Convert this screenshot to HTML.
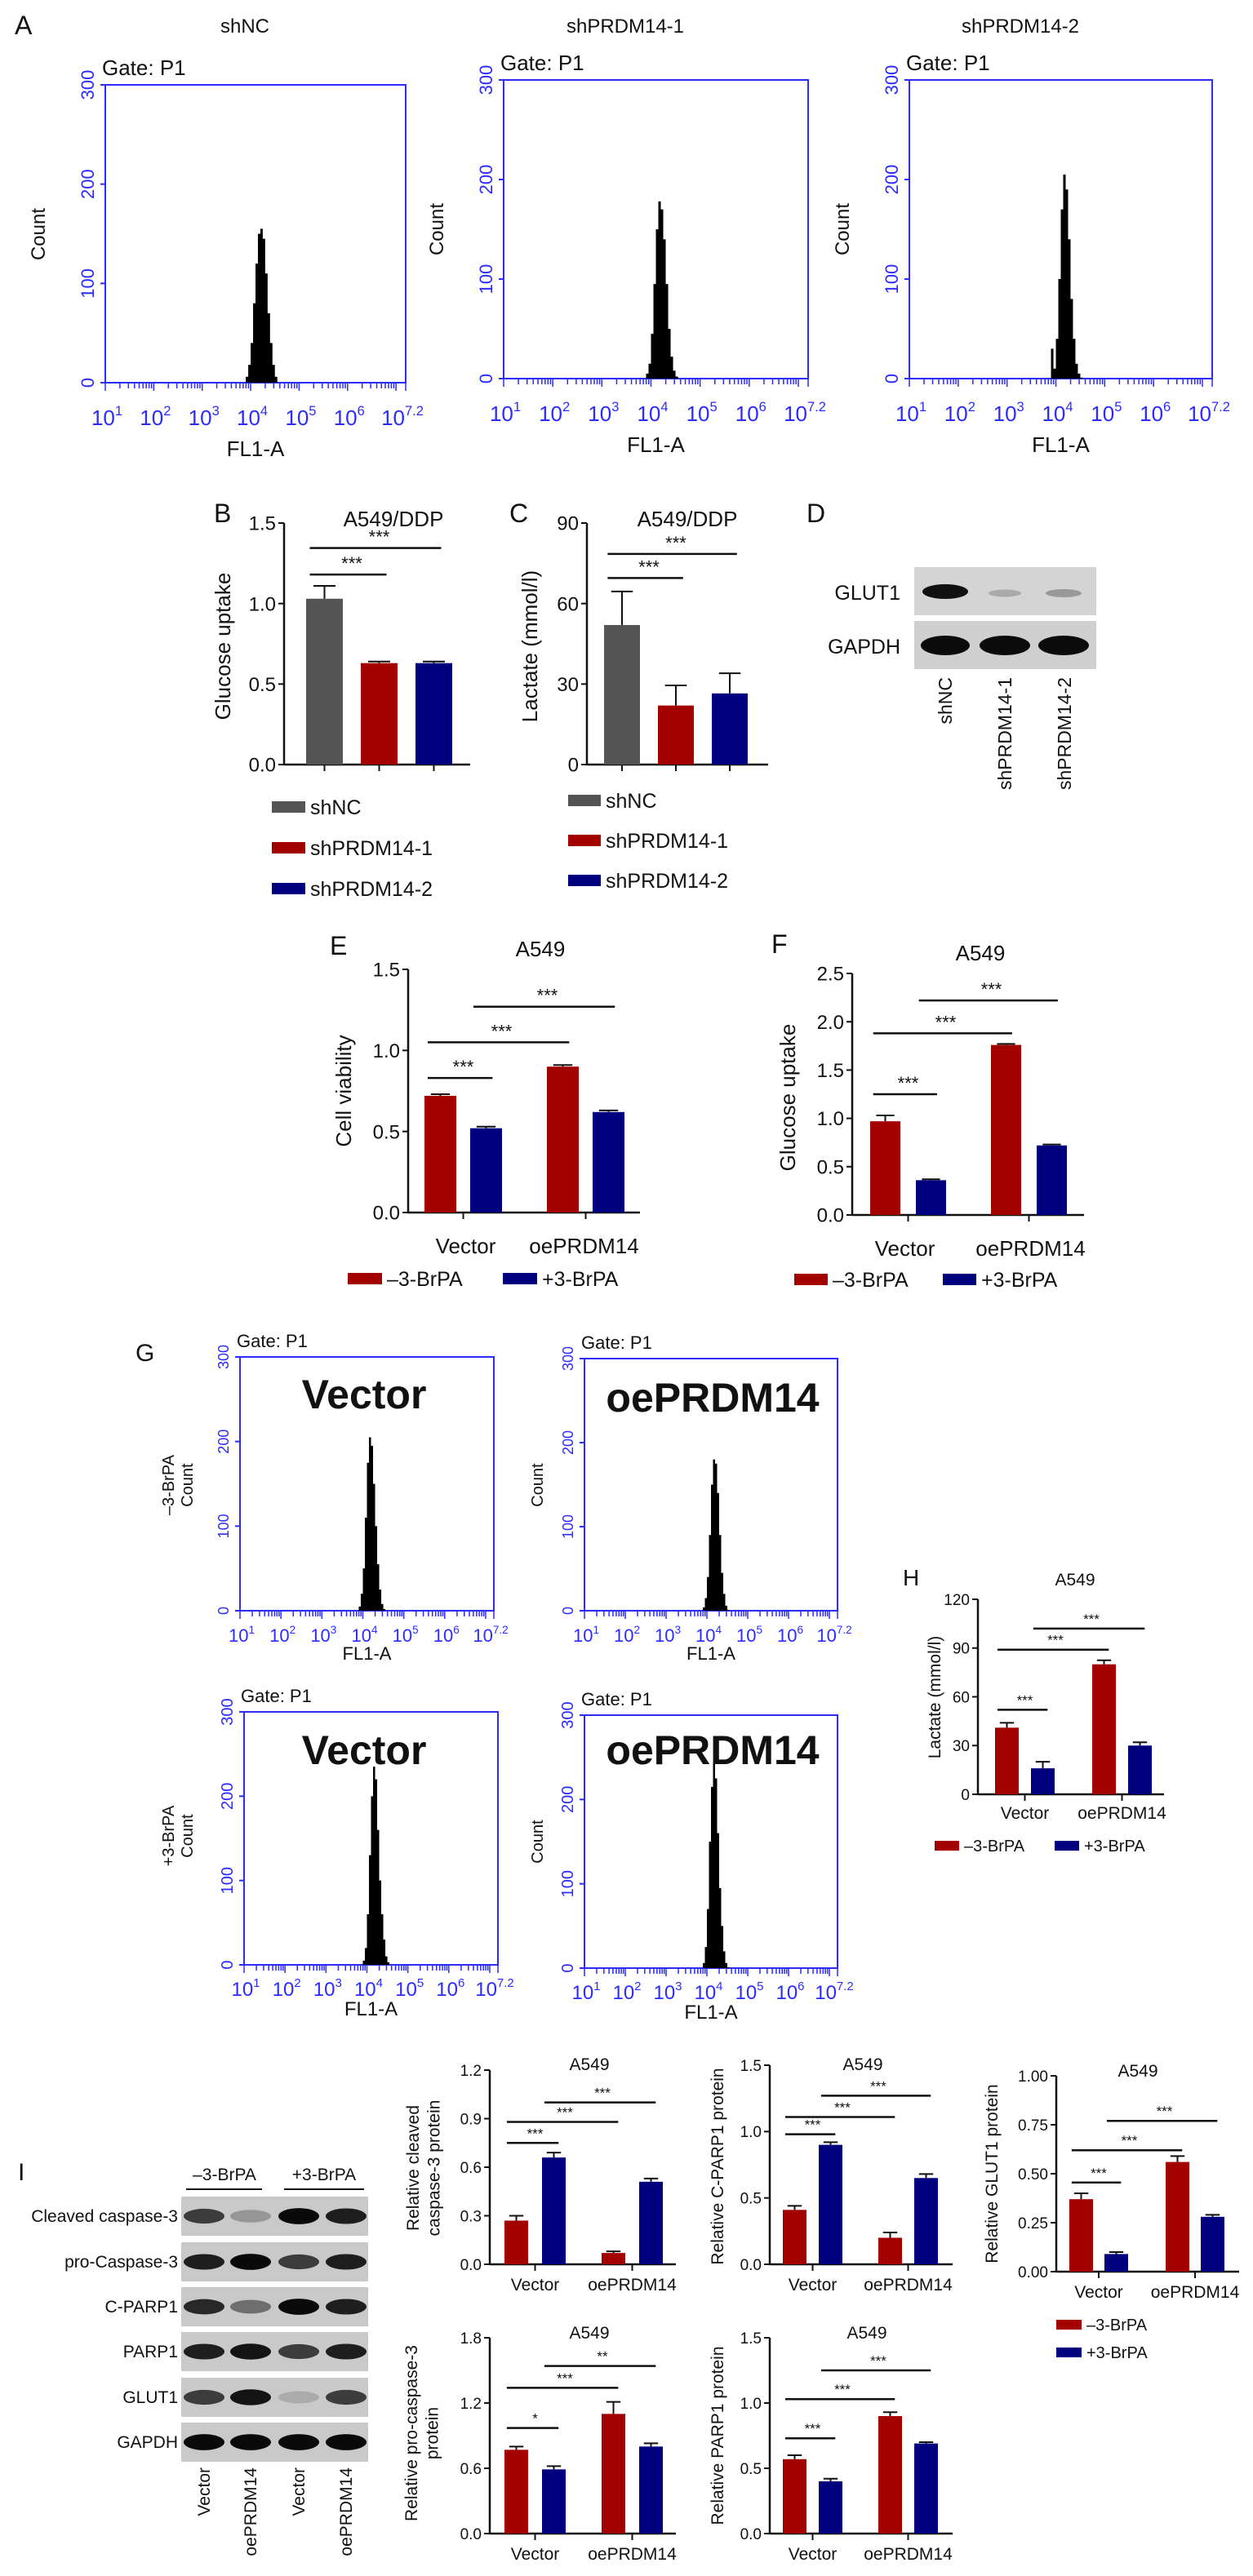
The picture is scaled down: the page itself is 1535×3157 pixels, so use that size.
<!DOCTYPE html>
<html><head><meta charset="utf-8"><style>
html,body{margin:0;padding:0;background:#fff;}
svg{display:block;font-family:"Liberation Sans",Arial,sans-serif;}
</style></head><body>
<svg id="fig" width="1535" height="3157" viewBox="0 0 1535 3157" xmlns="http://www.w3.org/2000/svg"></svg>
<script>
// ---------- DATA ----------
// Panel A histograms (counts per bin, bins over log10 range)
const histA1 = [0,6,18,40,80,120,150,155,145,110,70,40,18,6,0];
const histA2 = [0,5,15,45,95,150,178,170,140,95,50,22,8,2,0];
const histA3 = [0,30,10,40,100,170,205,190,140,80,40,15,5,1,0];
const histGtopVec = [0,5,20,50,110,175,205,195,150,100,55,25,8,2,0];
const histGtopOe  = [0,4,15,40,90,150,180,175,140,90,45,20,6,1,0];
const histGbotVec = [0,5,20,60,130,200,235,220,160,100,60,30,10,3,0];
const histGbotOe  = [0,6,25,70,150,215,245,225,160,95,50,20,6,1,0];
// B
const catsB = ["shNC","shPRDM14-1","shPRDM14-2"];
const valsB = [1.03,0.63,0.63];
const errsB = [0.08,0.01,0.01];
const ticksB = [0,0.5,1.0,1.5];
const tickLabB = ["0.0","0.5","1.0","1.5"];
// C
const valsC = [52,22,26.5];
const errsC = [12.5,7.5,7.5];
const ticksC = [0,30,60,90];
const tickLabC = ["0","30","60","90"];
// E
const groups = ["Vector","oePRDM14"];
const seriesNames = ["\u20133-BrPA","+3-BrPA"];
const valsE_minus = [0.72,0.90];
const valsE_plus = [0.52,0.62];
const errsE = [0.01,0.01,0.01,0.01];
const ticksE = [0,0.5,1.0,1.5];
const tickLabE = ["0.0","0.5","1.0","1.5"];
// F
const valsF_minus = [0.97,1.76];
const valsF_plus = [0.36,0.72];
const errsF = [0.06,0.01,0.01,0.01];
const ticksF = [0,0.5,1.0,1.5,2.0,2.5];
const tickLabF = ["0.0","0.5","1.0","1.5","2.0","2.5"];
// H
const valsH_minus = [41,80];
const valsH_plus = [16,30];
const errsH = [3,4,2.5,2];
const ticksH = [0,30,60,90,120];
const tickLabH = ["0","30","60","90","120"];
// I charts
const valsI1_minus = [0.27,0.07]; const valsI1_plus = [0.66,0.51]; const errsI1=[0.03,0.03,0.01,0.02];
const ticksI1 = [0,0.3,0.6,0.9,1.2]; const tickLabI1 = ["0.0","0.3","0.6","0.9","1.2"];
const valsI2_minus = [0.41,0.20]; const valsI2_plus = [0.90,0.65]; const errsI2=[0.03,0.02,0.04,0.03];
const ticksI2 = [0,0.5,1.0,1.5]; const tickLabI2 = ["0.0","0.5","1.0","1.5"];
const valsI3_minus = [0.37,0.56]; const valsI3_plus = [0.09,0.28]; const errsI3=[0.03,0.01,0.03,0.01];
const ticksI3 = [0,0.25,0.5,0.75,1.0]; const tickLabI3 = ["0.00","0.25","0.50","0.75","1.00"];
const valsI4_minus = [0.77,1.10]; const valsI4_plus = [0.59,0.80]; const errsI4=[0.03,0.03,0.11,0.03];
const ticksI4 = [0,0.6,1.2,1.8]; const tickLabI4 = ["0.0","0.6","1.2","1.8"];
const valsI5_minus = [0.57,0.90]; const valsI5_plus = [0.40,0.69]; const errsI5=[0.03,0.02,0.03,0.01];
const ticksI5 = [0,0.5,1.0,1.5]; const tickLabI5 = ["0.0","0.5","1.0","1.5"];

// ---------- HELPERS ----------
const NS="http://www.w3.org/2000/svg";
const root=document.getElementById('fig');
function el(tag,attrs,parent){const e=document.createElementNS(NS,tag);for(const k in attrs)e.setAttribute(k,attrs[k]);(parent||root).appendChild(e);return e;}
function T(x,y,s,size,anchor,extra,parent){const t=el('text',Object.assign({x:x,y:y,'font-size':size,'text-anchor':anchor||'start',fill:'#111'},extra||{}),parent);t.textContent=s;return t;}
const RED="#a30000", BLUE="#00007e", GRAY="#555555", FB="#2b2bff";

// ---------- FLOW HISTOGRAM ----------
function flow(name,x0,yT,x1,yB,hist,opts){
  const g=el('g',{});
  
  
  el('rect',{x:x0,y:yT,width:x1-x0,height:yB-yT,fill:'none',stroke:FB,'stroke-width':2},g);
  const fs=opts.fs||22;
  const X=e=>x0+(e-1)/6.2*(x1-x0);
  const Y=c=>yB-c/300*(yB-yT);
  // y ticks
  [0,100,200,300].forEach(v=>{
    const y=Y(v);
    el('line',{x1:x0-6,y1:y,x2:x0,y2:y,stroke:FB,'stroke-width':2},g);
    const t=T(x0-14,y,String(v),fs,'middle',{fill:FB,transform:`rotate(-90 ${x0-14} ${y})`},g);
  });
  // x minor ticks
  for(let d=1;d<=7;d++){for(let m=1;m<10;m++){const e=d+Math.log10(m);if(e>7.2)break;
    const x=X(e);el('line',{x1:x,y1:yB,x2:x,y2:yB+(m===1?10:7),stroke:FB,'stroke-width':1.5},g);}}
  el('line',{x1:X(7.2),y1:yB,x2:X(7.2),y2:yB+10,stroke:FB,'stroke-width':1.5},g);
  // x labels
  const exps=["1","2","3","4","5","6","7.2"],ev=[1,2,3,4,5,6,7.2];
  ev.forEach((e,i)=>{const x=X(e)+(i===6?-4:2);
    const t=el('text',{x:x,y:yB+opts.tl,'font-size':fs+4,'text-anchor':'middle',fill:FB},g);
    const a=el('tspan',{},t);a.textContent="10";
    const b=el('tspan',{dy:-(fs*0.55),'font-size':fs*0.75},t);b.textContent=exps[i];
  });
  T((x0+x1)/2,yB+opts.fl,"FL1-A",fs+4,'middle',{},g);
  // histogram from data
  const lo=3.85,step=0.05;
  let d=`M${X(lo)},${yB}`;
  hist.forEach((c,i)=>{d+=` L${X(lo+i*step)},${Y(c)} L${X(lo+(i+1)*step)},${Y(c)}`;});
  d+=` L${X(lo+hist.length*step)},${yB} Z`;
  el('path',{d:d,fill:'#000'},g);
  T(x0-4,yT-12,"Gate: P1",opts.gfs||24,'start',{},g);
  return g;
}
flow('flow-plot-shnc',129,104,497,469,histA1,{tl:52,fl:90,fs:22,gfs:26});
flow('flow-plot-shprdm14-1',617,98,990,464,histA2,{tl:52,fl:90,fs:22,gfs:26});
flow('flow-plot-shprdm14-2',1114,98,1485,464,histA3,{tl:52,fl:90,fs:22,gfs:26});
T(18,42,"A",32,'start',{});
T(300,40,"shNC",24,'middle',{});
T(766,40,"shPRDM14-1",24,'middle',{});
T(1250,40,"shPRDM14-2",24,'middle',{});
[[55,287],[543,281],[1040,281]].forEach(p=>T(p[0],p[1],"Count",24,'middle',{transform:`rotate(-90 ${p[0]} ${p[1]})`,}));

// G
flow('flow-plot-vector-minus',294,1663,605,1974,histGtopVec,{tl:38,fl:60,fs:18,gfs:22});
flow('flow-plot-oeprdm14-minus',716,1665,1026,1974,histGtopOe,{tl:38,fl:60,fs:18,gfs:22});
flow('flow-plot-vector-plus',299,2098,610,2408,histGbotVec,{tl:38,fl:62,fs:20,gfs:22});
flow('flow-plot-oeprdm14-plus',716,2102,1026,2412,histGbotOe,{tl:38,fl:62,fs:20,gfs:22});
T(166,1668,"G",30,'start',{});
T(446,1726,"Vector",50,'middle',{'font-weight':'bold',});
T(873,1730,"oePRDM14",50,'middle',{'font-weight':'bold',});
T(446,2162,"Vector",50,'middle',{'font-weight':'bold',});
T(873,2162,"oePRDM14",50,'middle',{'font-weight':'bold',});
[[["\u20133-BrPA",213],["Count",236]],[["+3-BrPA",213],["Count",236]]].forEach((arr,r)=>{
  const y=r?2250:1820;arr.forEach(a=>T(a[1],y,a[0],20,'middle',{transform:`rotate(-90 ${a[1]} ${y})`,}));});
T(665,1820,"Count",20,'middle',{transform:'rotate(-90 665 1820)',});
T(665,2257,"Count",20,'middle',{transform:'rotate(-90 665 2257)',});

// ---------- BAR CHART ----------
function barChart(name,c,series,errs,ticks,tickLabs,sig){
  const g=el('g',{});
  
  
  const max=ticks[ticks.length-1];
  const Y=v=>c.y0-v/max*(c.y0-c.yT);
  // axes
  el('line',{x1:c.ax,y1:Y(max),x2:c.ax,y2:c.y0,stroke:'#111','stroke-width':2.5},g);
  el('line',{x1:c.ax,y1:c.y0,x2:c.axEnd,y2:c.y0,stroke:'#111','stroke-width':2.5},g);
  ticks.forEach((v,i)=>{const y=Y(v);
    el('line',{x1:c.ax-7,y1:y,x2:c.ax,y2:y,stroke:'#111','stroke-width':2},g);
    T(c.ax-10,y+c.fs*0.36,tickLabs[i],c.fs,'end',{},g);});
  const barX=[];
  const nG=series[0].vals.length;
  let k=0;
  for(let gi=0;gi<nG;gi++){
    series.forEach((s,si)=>{
      const x=c.x0+gi*c.gStep+si*c.sStep; barX.push(x+c.w/2);
      const v=s.vals[gi],e=errs[k];
      const r=el('rect',{x:x,y:Y(v),width:c.w,height:c.y0-Y(v),fill:s.color},g);
      
      
      el('line',{x1:x+c.w/2,y1:Y(v),x2:x+c.w/2,y2:Y(v+e),stroke:'#111','stroke-width':2},g);
      el('line',{x1:x+c.w/2-c.w*0.3,y1:Y(v+e),x2:x+c.w/2+c.w*0.3,y2:Y(v+e),stroke:'#111','stroke-width':2},g);
      k++;
    });
    if(c.cats){
      const cx=c.x0+gi*c.gStep+((series.length-1)*c.sStep+c.w)/2;
      el('line',{x1:cx,y1:c.y0,x2:cx,y2:c.y0+8,stroke:'#111','stroke-width':2},g);
      T(cx+(c.catDx?c.catDx[gi]:0),c.y0+c.catDy,c.cats[gi],c.fs+2,'middle',{},g);
    }
  }
  if(!c.cats){barX.forEach(x=>el('line',{x1:x,y1:c.y0,x2:x,y2:c.y0+8,stroke:'#111','stroke-width':2},g));}
  (sig||[]).forEach(s=>{const y=Y(s[2]);
    const l=el('line',{x1:barX[s[0]]-c.w*0.4,y1:y,x2:barX[s[1]]+c.w*0.2,y2:y,stroke:'#111','stroke-width':2.5},g);
    
    
    T((barX[s[0]]+barX[s[1]])/2,y-6,s[3],c.fs-2,'middle',{},g);});
  if(c.title)T(c.titleX,c.titleY,c.title,c.fs+2,'middle',{},g);
  if(c.ylab){c.ylab.forEach((s,i)=>{const x=c.ylabX+i*c.fs*1.35;T(x,c.ylabY,s,c.fs+2,'middle',{transform:`rotate(-90 ${x} ${c.ylabY})`},g);});}
  return g;
}
function legend(name,items,x,y,dx,dy,sw,sh,fs){
  items.forEach((it,i)=>{const g=el('g',{});
    
    
    const xx=x+i*dx,yy=y+i*dy;
    el('rect',{x:xx,y:yy-sh/2,width:sw,height:sh,fill:it[1]},g);
    T(xx+sw+6,yy+fs*0.36,it[0],fs,'start',{},g);});
}

// B
barChart('chart-b-glucose-uptake',{ax:348,axEnd:576,y0:937,yT:641,x0:375,gStep:67,sStep:0,w:45,fs:24,title:"A549/DDP",titleX:482,titleY:645,ylab:["Glucose uptake"],ylabX:282,ylabY:792},
  [{vals:valsB,color:null}].map(s=>s),errsB,ticksB,tickLabB,[]);
// recolor B bars via separate draw: simpler to draw using single-series groups
root.lastChild.remove();
function singleSeries(name,c,vals,errs,ticks,labs,cols,sig){
  const series=[{vals:vals,color:'#000'}];
  const g=barChart(name,Object.assign({},c,{sStep:0}),series,errs,ticks,labs,sig);
  const bars=g.querySelectorAll('rect');bars.forEach((b,i)=>b.setAttribute('fill',cols[i]));
}
singleSeries('chart-b-glucose-uptake',{ax:348,axEnd:576,y0:937,yT:641,x0:375,gStep:67,w:45,fs:24,title:"A549/DDP",titleX:482,titleY:645,ylab:["Glucose uptake"],ylabX:282,ylabY:792},
  valsB,errsB,ticksB,tickLabB,[GRAY,RED,BLUE],[[0,1,1.18,"***"],[0,2,1.345,"***"]]);
singleSeries('chart-c-lactate',{ax:719,axEnd:941,y0:937,yT:641,x0:740,gStep:66,w:44,fs:24,title:"A549/DDP",titleX:842,titleY:645,ylab:["Lactate (mmol/l)"],ylabX:658,ylabY:792},
  valsC,errsC,ticksC,tickLabC,[GRAY,RED,BLUE],[[0,1,69.5,"***"],[0,2,78.5,"***"]]);
T(262,640,"B",32,'start',{});
T(624,640,"C",32,'start',{});
T(988,640,"D",32,'start',{});
legend('legend-entry',[["shNC",GRAY],["shPRDM14-1",RED],["shPRDM14-2",BLUE]],333,989,0,50,41,14,25);
legend('legend-entry',[["shNC",GRAY],["shPRDM14-1",RED],["shPRDM14-2",BLUE]],696,981,0,49,40,14,25);

// D blot
function band(g,x,y,w,h,op){el('ellipse',{cx:x,cy:y,rx:w/2,ry:h/2,fill:`rgba(0,0,0,${op})`},g);}
(function(){const g=el('g',{});
  
  
  el('rect',{x:1120,y:695,width:223,height:59,fill:'#d4d4d4'},g);
  el('rect',{x:1120,y:761,width:223,height:59,fill:'#cfcfcf'},g);
  band(g,1158,725,56,18,0.92);band(g,1231,727,40,9,0.2);band(g,1303,727,44,10,0.28);
  band(g,1158,791,60,24,0.95);band(g,1231,791,62,24,0.95);band(g,1303,791,62,24,0.95);
  T(1103,735,"GLUT1",25,'end',{},g);T(1103,801,"GAPDH",25,'end',{},g);
  [["shNC",1166],["shPRDM14-1",1239],["shPRDM14-2",1312]].forEach(a=>T(a[1],830,a[0],23,'end',{transform:`rotate(-90 ${a[1]} 830)`},g));
})();

// E, F, H
function twoSeries(name,c,minus,plus,errs,ticks,labs,sig){
  return barChart(name,c,[{vals:minus,color:RED},{vals:plus,color:BLUE}],errs,ticks,labs,sig);
}
twoSeries('chart-e-cell-viability',{ax:500,axEnd:784,y0:1486,yT:1188,x0:520,gStep:150,sStep:56,w:39,fs:24,cats:groups,catDy:50,catDx:[3,-2],title:"A549",titleX:662,titleY:1172,ylab:["Cell viability"],ylabX:430,ylabY:1337},
  valsE_minus,valsE_plus,errsE,ticksE,tickLabE,[[0,1,0.83,"***"],[0,2,1.05,"***"],[1,3,1.27,"***"]]);
T(404,1170,"E",32,'start',{});
legend('legend-entry',[[seriesNames[0],RED],[seriesNames[1],BLUE]],426,1567,190,0,42,14,25);
twoSeries('chart-f-glucose-uptake',{ax:1044,axEnd:1328,y0:1489,yT:1193,x0:1066,gStep:148,sStep:56,w:37,fs:24,cats:groups,catDy:50,catDx:[-4,2],title:"A549",titleX:1201,titleY:1177,ylab:["Glucose uptake"],ylabX:974,ylabY:1345},
  valsF_minus,valsF_plus,errsF,ticksF,tickLabF,[[0,1,1.25,"***"],[0,2,1.88,"***"],[1,3,2.22,"***"]]);
T(945,1168,"F",32,'start',{});
legend('legend-entry',[[seriesNames[0],RED],[seriesNames[1],BLUE]],973,1568,182,0,41,14,25);
twoSeries('chart-h-lactate',{ax:1198,axEnd:1426,y0:2199,yT:1960,x0:1219,gStep:119,sStep:44,w:29,fs:19,cats:groups,catDy:30,title:"A549",titleX:1317,titleY:1943,ylab:["Lactate (mmol/l)"],ylabX:1152,ylabY:2080},
  valsH_minus,valsH_plus,errsH,ticksH,tickLabH,[[0,1,52,"***"],[0,2,89,"***"],[1,3,102,"***"]]);
T(1106,1943,"H",28,'start',{});
legend('legend-entry',[[seriesNames[0],RED],[seriesNames[1],BLUE]],1145,2262,147,0,30,12,20);

// I blot
(function(){const g=el('g',{});
  
  
  T(22,2672,"I",30,'start',{},g);
  T(275,2672,"\u20133-BrPA",21,'middle',{},g);T(397,2672,"+3-BrPA",21,'middle',{},g);
  el('line',{x1:228,y1:2683,x2:321,y2:2683,stroke:'#111','stroke-width':2},g);
  el('line',{x1:348,y1:2683,x2:446,y2:2683,stroke:'#111','stroke-width':2},g);
  const rows=["Cleaved caspase-3","pro-Caspase-3","C-PARP1","PARP1","GLUT1","GAPDH"];
  const tops=[2692,2748,2803,2858,2914,2969];
  const ops=[[0.7,0.25,0.95,0.85],[0.85,0.95,0.7,0.85],[0.8,0.45,0.95,0.85],[0.85,0.9,0.7,0.85],[0.7,0.9,0.15,0.7],[0.95,0.95,0.95,0.95]];
  const lanes=[250,307,366,424];
  rows.forEach((r,i)=>{el('rect',{x:222,y:tops[i],width:229,height:48,fill:'#c9c9c9'},g);
    lanes.forEach((lx,j)=>band(g,lx,tops[i]+24,50,14+ops[i][j]*6,ops[i][j]));
    T(218,tops[i]+31,r,21,'end',{},g);});
  [["Vector",257],["oePRDM14",314],["Vector",373],["oePRDM14",431]].forEach(a=>T(a[1],3024,a[0],21,'end',{transform:`rotate(-90 ${a[1]} 3024)`},g));
})();
twoSeries('chart-i-cleaved-caspase3',{ax:600,axEnd:828,y0:2775,yT:2537,x0:618,gStep:119,sStep:46,w:29,fs:19,cats:groups,catDy:32,title:"A549",titleX:722,titleY:2537,ylab:["Relative cleaved","caspase-3 protein"],ylabX:513,ylabY:2657},
  valsI1_minus,valsI1_plus,errsI1,ticksI1,tickLabI1,[[0,1,0.75,"***"],[0,2,0.88,"***"],[1,3,1.0,"***"]]);
twoSeries('chart-i-c-parp1',{ax:943,axEnd:1167,y0:2775,yT:2531,x0:959,gStep:117,sStep:44,w:29,fs:19,cats:groups,catDy:32,title:"A549",titleX:1057,titleY:2537,ylab:["Relative C-PARP1 protein"],ylabX:886,ylabY:2655},
  valsI2_minus,valsI2_plus,errsI2,ticksI2,tickLabI2,[[0,1,0.98,"***"],[0,2,1.11,"***"],[1,3,1.27,"***"]]);
twoSeries('chart-i-glut1',{ax:1294,axEnd:1518,y0:2784,yT:2544,x0:1310,gStep:118,sStep:43,w:29,fs:19,cats:groups,catDy:32,title:"A549",titleX:1394,titleY:2545,ylab:["Relative GLUT1 protein"],ylabX:1222,ylabY:2664},
  valsI3_minus,valsI3_plus,errsI3,ticksI3,tickLabI3,[[0,1,0.455,"***"],[0,2,0.62,"***"],[1,3,0.77,"***"]]);
legend('legend-entry',[[seriesNames[0],RED],[seriesNames[1],BLUE]],1294,2849,0,34,31,12,20);
twoSeries('chart-i-pro-caspase3',{ax:600,axEnd:828,y0:3105,yT:2865,x0:618,gStep:119,sStep:46,w:29,fs:19,cats:groups,catDy:32,title:"A549",titleX:722,titleY:2866,ylab:["Relative pro-caspase-3","protein"],ylabX:511,ylabY:2982},
  valsI4_minus,valsI4_plus,errsI4,ticksI4,tickLabI4,[[0,1,0.97,"*"],[0,2,1.34,"***"],[1,3,1.54,"**"]]);
twoSeries('chart-i-parp1',{ax:943,axEnd:1167,y0:3105,yT:2865,x0:959,gStep:117,sStep:44,w:29,fs:19,cats:groups,catDy:32,title:"A549",titleX:1062,titleY:2866,ylab:["Relative PARP1 protein"],ylabX:886,ylabY:2985},
  valsI5_minus,valsI5_plus,errsI5,ticksI5,tickLabI5,[[0,1,0.73,"***"],[0,2,1.03,"***"],[1,3,1.25,"***"]]);
</script>
</body></html>
